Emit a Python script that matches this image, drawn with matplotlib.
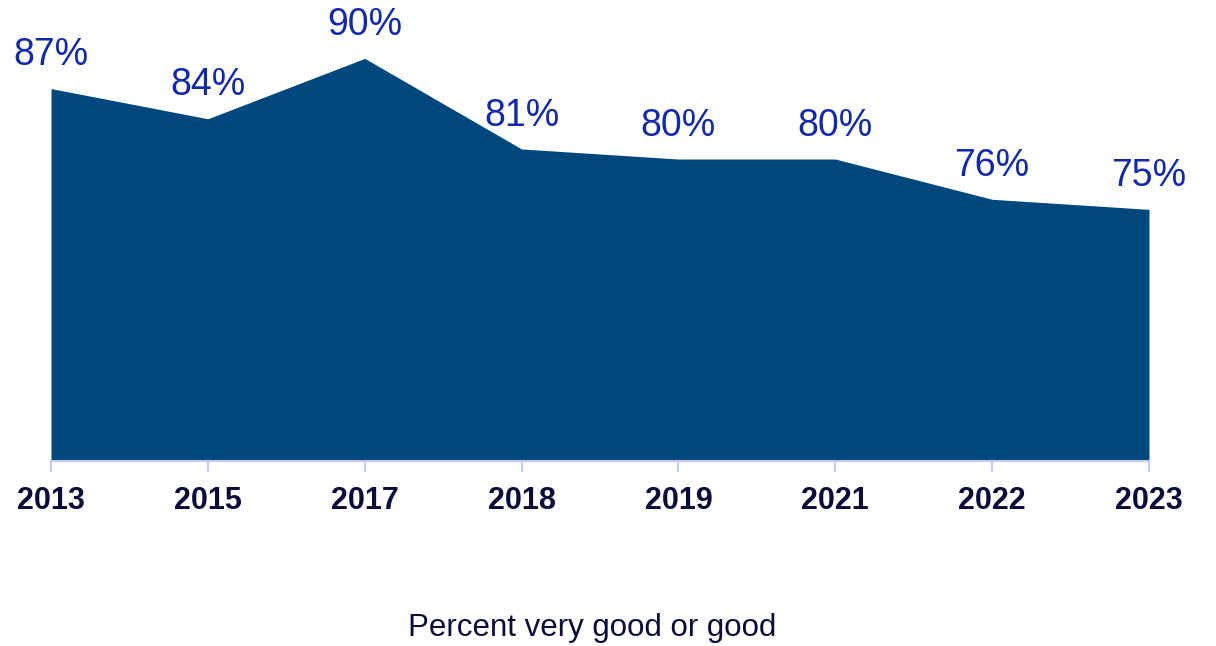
import matplotlib
matplotlib.use("Agg")
import matplotlib.pyplot as plt

# Survey results: share rating very good or good, by year
years = ["2013", "2015", "2017", "2018", "2019", "2021", "2022", "2023"]
percent_good = [87, 84, 90, 81, 80, 80, 76, 75]

FILL = "#00477e"
LABEL_BLUE = "#1229ad"
NAVY = "#0b0c3b"
AXIS = "#c3cbf2"

plt.rcParams["font.family"] = ["Liberation Sans", "DejaVu Sans"]

W, H = 1216, 646
fig = plt.figure(figsize=(W / 100, H / 100), dpi=100)
ax = fig.add_axes([51 / W, (H - 461) / H, (1149 - 51) / W, 461 / H])

x = list(range(len(years)))
ax.fill_between(x, percent_good, 50, color=FILL, linewidth=0, zorder=2)

ax.set_xlim(0, len(years) - 1)
ax.set_ylim(50, 95.8)

for xi, v in zip(x, percent_good):
    ax.annotate(f"{v}%", (xi, v), xytext=(0, 24), textcoords="offset points",
                ha="center", va="center", fontsize=27, color=LABEL_BLUE)

for side in ("left", "right", "top"):
    ax.spines[side].set_visible(False)
ax.spines["bottom"].set_color(AXIS)
ax.spines["bottom"].set_linewidth(1.5)
ax.spines["bottom"].set_zorder(3)

ax.set_yticks([])
ax.set_xticks(x)
ax.set_xticklabels(years, fontsize=22, fontweight="bold", color=NAVY)
ax.tick_params(axis="x", length=8, width=1.5, color=AXIS, pad=10)
ax.patch.set_alpha(0)

fig.text(592 / W, 1 - 628 / H, "Percent very good or good", ha="center", va="center",
         fontsize=22.5, color=NAVY)

fig.savefig("out.png", dpi=100)
